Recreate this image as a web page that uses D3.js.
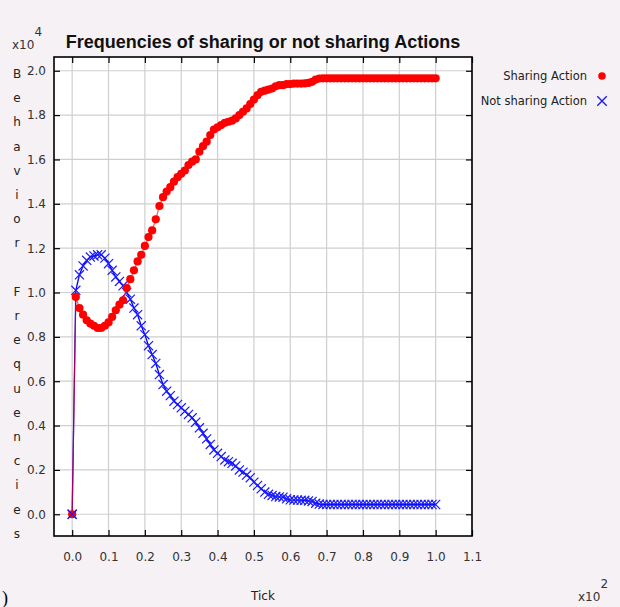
<!DOCTYPE html>
<html>
<head>
<meta charset="utf-8">
<script src="https://cdn.jsdelivr.net/npm/d3@7"></script>
<style>
  html, body { margin: 0; padding: 0; background: #f5f1f5; }
  svg { display: block; font-family: "Liberation Sans", Arial, sans-serif; }
</style>
</head>
<body>
<div id="chart"></div>
<script>
  //Chart data (values in x10^4, ticks in x10^2 on the axis)
  var seriesNames = ['Sharing Action', 'Not sharing Action'];
  var sharing = [
    0, 0.98, 0.93, 0.90, 0.875, 0.86, 0.85, 0.84, 0.84, 0.85,
    0.865, 0.89, 0.92, 0.945, 0.965, 1.02, 1.06, 1.10, 1.14, 1.17,
    1.21, 1.25, 1.28, 1.33, 1.39, 1.43, 1.455, 1.475, 1.50, 1.52,
    1.535, 1.55, 1.575, 1.59, 1.60, 1.635, 1.66, 1.68, 1.71, 1.735,
    1.745, 1.755, 1.765, 1.77, 1.775, 1.785, 1.80, 1.815, 1.83, 1.85,
    1.87, 1.89, 1.905, 1.91, 1.915, 1.92, 1.93, 1.935, 1.935, 1.94,
    1.94, 1.942, 1.942, 1.942, 1.943, 1.945, 1.95, 1.96, 1.965, 1.966,
    1.966, 1.966, 1.966, 1.966, 1.966, 1.966, 1.966, 1.966, 1.966, 1.966,
    1.966, 1.966, 1.966, 1.966, 1.966, 1.966, 1.966, 1.966, 1.966, 1.966,
    1.966, 1.966, 1.966, 1.966, 1.966, 1.966, 1.966, 1.966, 1.966, 1.966,
    1.966
  ];
  var notSharing = [
    0, 1.01, 1.08, 1.12, 1.145, 1.16, 1.165, 1.17, 1.17, 1.155,
    1.13, 1.10, 1.07, 1.05, 1.03, 1.0, 0.97, 0.93, 0.90, 0.85,
    0.81, 0.76, 0.72, 0.68, 0.63, 0.585, 0.555, 0.535, 0.51, 0.495,
    0.48, 0.465, 0.45, 0.435, 0.415, 0.39, 0.365, 0.34, 0.315, 0.29,
    0.275, 0.26, 0.245, 0.237, 0.23, 0.218, 0.20, 0.19, 0.177, 0.165,
    0.145, 0.13, 0.115, 0.10, 0.09, 0.085, 0.08, 0.078, 0.077, 0.07,
    0.065, 0.064, 0.064, 0.063, 0.063, 0.06, 0.058, 0.05, 0.046, 0.044,
    0.044, 0.044, 0.044, 0.044, 0.044, 0.044, 0.044, 0.044, 0.044, 0.044,
    0.044, 0.044, 0.044, 0.044, 0.044, 0.044, 0.044, 0.044, 0.044, 0.044,
    0.044, 0.044, 0.044, 0.044, 0.044, 0.044, 0.044, 0.044, 0.044, 0.044,
    0.044
  ];
  var xTicks = [0, 0.1, 0.2, 0.3, 0.4, 0.5, 0.6, 0.7, 0.8, 0.9, 1.0, 1.1];
  var yTicks = [0, 0.2, 0.4, 0.6, 0.8, 1.0, 1.2, 1.4, 1.6, 1.8, 2.0];
  var yLabel = 'Behavior Frequencies';

  var width = 620, height = 607;
  var plot = { left: 54, right: 472, top: 57, bottom: 536 };

  var svg = d3.select('#chart').append('svg').attr('width', width).attr('height', height);

  //Scales (x in units of 10^2 ticks)
  var x = d3.scaleLinear().domain([-0.05, 1.1]).range([plot.left, plot.right]);
  var y = d3.scaleLinear().domain([-0.098, 2.062]).range([plot.bottom, plot.top]);

  svg.append('rect')
    .attr('x', plot.left).attr('y', plot.top)
    .attr('width', plot.right - plot.left).attr('height', plot.bottom - plot.top)
    .attr('fill', '#fff');

  //Grid
  var grid = svg.append('g').attr('stroke', '#cfcfcf').attr('stroke-width', 1.2);
  grid.selectAll('.gx').data(xTicks).enter().append('line')
    .attr('x1', function(d){ return x(d); }).attr('x2', function(d){ return x(d); })
    .attr('y1', plot.top).attr('y2', plot.bottom);
  grid.selectAll('.gy').data(yTicks).enter().append('line')
    .attr('y1', function(d){ return y(d); }).attr('y2', function(d){ return y(d); })
    .attr('x1', plot.left).attr('x2', plot.right);

  //Axes with inner ticks
  var fmt = d3.format('.1f');
  var axStyle = function(g){
    g.select('.domain').remove();
    g.selectAll('.tick line').attr('stroke', '#000').attr('stroke-width', 1.2);
    g.selectAll('.tick text').attr('fill', '#333').style('font-size', '12px')
      .style('font-family', '"DejaVu Sans", sans-serif');
  };
  svg.append('g').attr('transform', 'translate(0,' + plot.bottom + ')')
    .call(d3.axisBottom(x).tickValues(xTicks).tickFormat(fmt).tickSizeInner(-6).tickPadding(16))
    .call(axStyle);
  svg.append('g').attr('transform', 'translate(0,' + plot.top + ')')
    .call(d3.axisTop(x).tickValues(xTicks).tickFormat('').tickSizeInner(-6))
    .call(axStyle);
  svg.append('g').attr('transform', 'translate(' + plot.left + ',0)')
    .call(d3.axisLeft(y).tickValues(yTicks).tickFormat(fmt).tickSizeInner(-6).tickPadding(8))
    .call(axStyle);
  svg.append('g').attr('transform', 'translate(' + plot.right + ',0)')
    .call(d3.axisRight(y).tickValues(yTicks).tickFormat('').tickSizeInner(-6))
    .call(axStyle);

  svg.append('rect')
    .attr('x', plot.left).attr('y', plot.top)
    .attr('width', plot.right - plot.left).attr('height', plot.bottom - plot.top)
    .attr('fill', 'none').attr('stroke', '#000').attr('stroke-width', 1.6);

  //Series
  var line = d3.line()
    .x(function(d, i){ return x(i / 100); })
    .y(function(d){ return y(d); });
  var ptsG = svg.append('g');

  ptsG.append('path').datum(notSharing).attr('d', line)
    .attr('fill', 'none').attr('stroke', '#0000ff').attr('stroke-width', 1.3);
  var cross = d3.symbol().type(d3.symbolX).size(56);
  ptsG.selectAll('.xm').data(notSharing).enter().append('path')
    .attr('transform', function(d, i){ return 'translate(' + x(i / 100) + ',' + y(d) + ')'; })
    .attr('d', cross).attr('fill', 'none').attr('stroke', '#1a1aff').attr('stroke-width', 1.2);

  ptsG.append('path').datum(sharing).attr('d', line)
    .attr('fill', 'none').attr('stroke', '#ff0000').attr('stroke-opacity', 0.65).attr('stroke-width', 1.2);
  ptsG.selectAll('.dot').data(sharing).enter().append('circle')
    .attr('cx', function(d, i){ return x(i / 100); })
    .attr('cy', function(d){ return y(d); })
    .attr('r', 4.1).attr('fill', '#ff0000');

  //Blue marker over the first red dot
  ptsG.append('path')
    .attr('transform', 'translate(' + x(0) + ',' + y(notSharing[0]) + ')')
    .attr('d', cross).attr('fill', 'none').attr('stroke', '#1a1aff').attr('stroke-width', 1.2);

  //Title
  svg.append('text').attr('x', (plot.left + plot.right) / 2).attr('y', 48)
    .attr('text-anchor', 'middle').style('font-size', '18px').style('font-weight', 'bold')
    .attr('fill', '#111').text('Frequencies of sharing or not sharing Actions');

  //Multipliers
  var mult = function(xp, yp, exp){
    var t = svg.append('text').attr('x', xp).attr('y', yp).attr('fill', '#333')
      .style('font-size', '12px').style('font-family', '"DejaVu Sans", sans-serif');
    t.append('tspan').text('x10');
    t.append('tspan').attr('dy', -13).text(exp);
  };
  mult(12, 49, '4');
  mult(578, 601, '2');

  //Vertical y label, one letter per row
  svg.append('g').selectAll('text').data(yLabel.split('')).enter().append('text')
    .attr('x', 17).attr('y', function(d, i){ return 78 + i * 24.2; })
    .attr('text-anchor', 'middle').attr('fill', '#222')
    .style('font-size', '12px').style('font-family', '"DejaVu Sans", sans-serif')
    .text(function(d){ return d; });

  //X label
  svg.append('text').attr('x', 263).attr('y', 600).attr('text-anchor', 'middle')
    .attr('fill', '#222').style('font-size', '12px').style('font-family', '"DejaVu Sans", sans-serif')
    .text('Tick');

  svg.append('text').attr('x', 2).attr('y', 604).style('font-size', '18px')
    .style('font-family', '"Liberation Serif", serif').text(')');

  //Legend
  var legend = svg.append('g').selectAll('g').data(seriesNames).enter().append('g')
    .attr('transform', function(d, i){ return 'translate(0,' + (76 + i * 25) + ')'; });
  legend.append('text').attr('x', 587).attr('dy', '0.35em').attr('text-anchor', 'end')
    .attr('fill', '#222').style('font-size', '11.5px').style('font-family', '"DejaVu Sans", sans-serif')
    .text(function(d){ return d; });
  legend.filter(function(d, i){ return i === 0; }).append('circle')
    .attr('cx', 602).attr('cy', 0).attr('r', 3.8).attr('fill', '#ff0000');
  legend.filter(function(d, i){ return i === 1; }).append('path')
    .attr('transform', 'translate(602,0)').attr('d', d3.symbol().type(d3.symbolX).size(60))
    .attr('fill', 'none').attr('stroke', '#1a1aff').attr('stroke-width', 1.4);
</script>
</body>
</html>
